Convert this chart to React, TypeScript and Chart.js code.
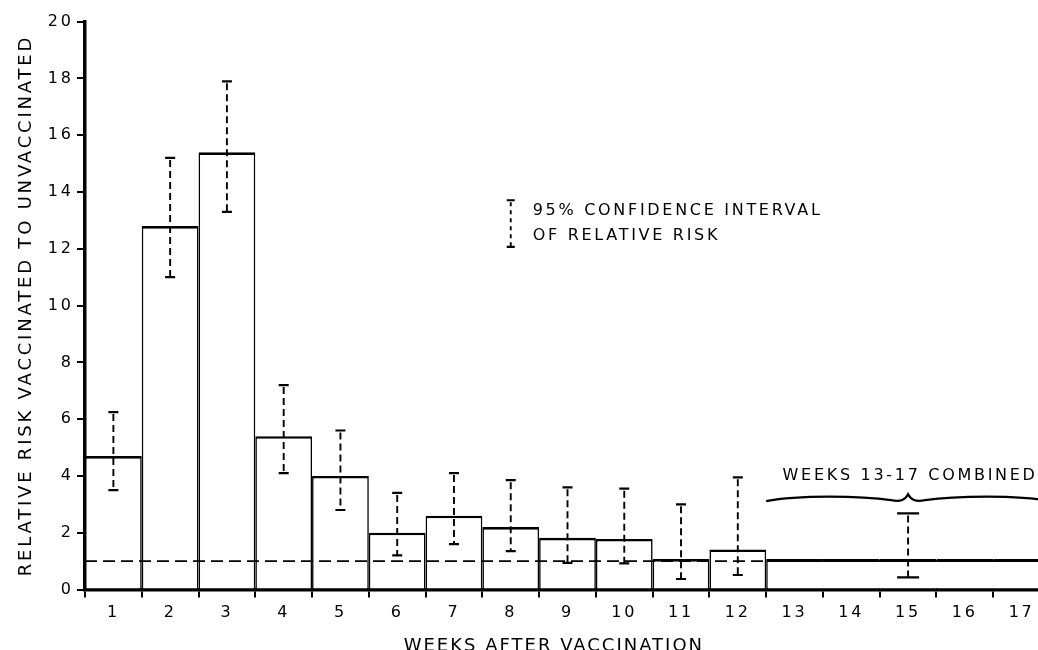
import React, { useEffect, useRef } from 'react';
import { Chart, registerables } from 'chart.js';

Chart.register(...registerables);

// ---- data ----
const weekLabels = ['1', '2', '3', '4', '5', '6', '7', '8', '9', '10', '11', '12', '13', '14', '15', '16', '17'];
const weeklyRisk = [4.7, 12.8, 15.4, 5.4, 4.0, 2.0, 2.6, 2.2, 1.82, 1.78, 1.07, 1.41];
const weeklyCiLow = [3.5, 11.0, 13.3, 4.1, 2.8, 1.2, 1.6, 1.35, 0.94, 0.92, 0.37, 0.51];
const weeklyCiHigh = [6.25, 15.2, 17.9, 7.2, 5.6, 3.4, 4.1, 3.85, 3.6, 3.55, 3.0, 3.95];
const combinedRisk = 1.07; // weeks 13-17 combined
const combinedCiLow = 0.43;
const combinedCiHigh = 2.68;
const combinedCiWeek = '15';
const yTickValues = [0, 2, 4, 6, 8, 10, 12, 14, 16, 18, 20];
const referenceRisk = 1;
const legendSampleCi = [12.07, 13.71];
const legendLines = ['95% CONFIDENCE INTERVAL', 'OF RELATIVE RISK'];
const legendLineValues = [13.33, 12.45];
const combinedNote = 'WEEKS 13-17 COMBINED';
const xTitle = 'WEEKS AFTER VACCINATION';
const yTitle = 'RELATIVE RISK VACCINATED TO UNVACCINATED';

const barValues = weekLabels.map((_, i) => (i < weeklyRisk.length ? weeklyRisk[i] : combinedRisk));

const CANVAS_W = 1060;
const CANVAS_H = 670;
const FONT = '"DejaVu Sans", sans-serif';

const overlay = {
  id: 'overlay',
  beforeDraw(chart: any) {
    chart.ctx.letterSpacing = '2.8px';
  },
  afterDatasetsDraw(chart: any) {
    const { ctx, chartArea, scales } = chart;
    const x = scales.x;
    const y = scales.y;
    ctx.save();
    ctx.strokeStyle = '#000';
    ctx.fillStyle = '#000';

    // reference line at relative risk 1
    const yr = y.getPixelForValue(referenceRisk);
    ctx.lineWidth = 1.7;
    ctx.setLineDash([12, 6]);
    ctx.beginPath();
    ctx.moveTo(chartArea.left, yr);
    ctx.lineTo(chartArea.right, yr);
    ctx.stroke();

    const drawCi = (xc: number, lo: number, hi: number, cap: number, dash: number[]) => {
      const yl = y.getPixelForValue(lo);
      const yh = y.getPixelForValue(hi);
      ctx.lineWidth = 1.9;
      ctx.setLineDash(dash);
      ctx.beginPath();
      ctx.moveTo(xc, yh + 2);
      ctx.lineTo(xc, yl);
      ctx.stroke();
      ctx.setLineDash([]);
      ctx.lineWidth = 2.2;
      ctx.beginPath();
      ctx.moveTo(xc - cap / 2, yh);
      ctx.lineTo(xc + cap / 2, yh);
      ctx.moveTo(xc - cap / 2, yl);
      ctx.lineTo(xc + cap / 2, yl);
      ctx.stroke();
    };

    weeklyCiLow.forEach((lo, i) => drawCi(x.getPixelForValue(i), lo, weeklyCiHigh[i], 10, [7, 4]));
    const ci = weekLabels.indexOf(combinedCiWeek);
    const xm = x.getPixelForValue(ci);
    drawCi(xm, combinedCiLow, combinedCiHigh, 22, [7, 4]);

    // legend sample
    const lx = x.getPixelForValue(7);
    drawCi(lx, legendSampleCi[0], legendSampleCi[1], 8, [4, 4]);
    ctx.font = `16px ${FONT}`;
    ctx.letterSpacing = '2.7px';
    ctx.textAlign = 'left';
    ctx.textBaseline = 'middle';
    legendLines.forEach((t, i) => ctx.fillText(t, lx + 22, y.getPixelForValue(legendLineValues[i])));

    // brace over weeks 13-17
    const xl = x.getPixelForValue(weeklyRisk.length - 0.5);
    const xr = x.getPixelForValue(weekLabels.length - 0.5);
    const yb = y.getPixelForValue(3.2);
    ctx.lineWidth = 2.2;
    ctx.beginPath();
    ctx.moveTo(xl, yb + 2.5);
    ctx.bezierCurveTo(xl + 32, yb - 4, xm - 47, yb - 3, xm - 17, yb + 1.5);
    ctx.bezierCurveTo(xm - 7, yb + 3.5, xm - 3, yb + 1, xm, yb - 4.5);
    ctx.bezierCurveTo(xm + 3, yb + 1, xm + 7, yb + 3.5, xm + 17, yb + 1.5);
    ctx.bezierCurveTo(xm + 47, yb - 3, xr - 32, yb - 4, xr, yb + 2.5);
    ctx.stroke();

    ctx.textAlign = 'center';
    ctx.fillText(combinedNote, xm + 2, y.getPixelForValue(4.0));

    // x axis title
    ctx.font = `18px ${FONT}`;
    ctx.letterSpacing = '2px';
    ctx.textBaseline = 'alphabetic';
    ctx.fillText(xTitle, x.getPixelForValue(7.76), chartArea.bottom + 61.5);
    ctx.restore();
  },
};

export default function App() {
  const ref = useRef<HTMLCanvasElement | null>(null);

  useEffect(() => {
    if (!ref.current) return;
    Chart.defaults.font.family = FONT;
    Chart.defaults.color = '#000';
    const chart = new Chart(ref.current, {
      type: 'bar',
      data: {
        labels: weekLabels,
        datasets: [
          {
            data: barValues,
            backgroundColor: '#fff',
            borderColor: '#000',
            borderSkipped: 'bottom',
            borderWidth: (c: any) => {
              const i = c.dataIndex;
              if (i < weeklyRisk.length) return { top: 2.6, left: 1.6, right: 1.6, bottom: 0 };
              if (i === weeklyRisk.length) return { top: 2.8, left: 1.6, right: 0, bottom: 0 };
              return { top: 2.8, left: 0, right: 0, bottom: 0 };
            },
            barPercentage: 1,
            categoryPercentage: 1,
            inflateAmount: 0,
          } as any,
        ],
      },
      options: {
        responsive: false,
        animation: false,
        devicePixelRatio: 1,
        layout: { padding: { left: 0, top: 21.7, right: 10, bottom: 0 } },
        plugins: {
          legend: { display: false },
          tooltip: { enabled: false },
          title: { display: false },
        },
        scales: {
          x: {
            type: 'category',
            z: 1,
            offset: true,
            grid: {
              offset: true,
              drawOnChartArea: false,
              drawTicks: true,
              tickLength: 8,
              color: '#000',
              lineWidth: 2,
            },
            border: { display: true, color: '#000', width: 3.5 },
            ticks: {
              color: '#000',
              font: { size: 16, family: FONT },
              padding: 6,
              maxRotation: 0,
              autoSkip: false,
            },
            afterFit: (s: any) => {
              s.height = CANVAS_H - 589.5;
            },
          },
          y: {
            min: 0,
            max: 20,
            z: 1,
            afterBuildTicks: (s: any) => {
              s.ticks = yTickValues.map((v) => ({ value: v }));
            },
            grid: {
              drawOnChartArea: false,
              drawTicks: true,
              tickLength: 8,
              color: '#000',
              lineWidth: 2,
            },
            border: { display: true, color: '#000', width: 3.5 },
            ticks: {
              color: '#000',
              font: { size: 16, family: FONT },
              padding: 3.3,
            },
            title: {
              display: true,
              text: yTitle,
              color: '#000',
              font: { size: 18, family: FONT },
              padding: { top: 15.7, bottom: 0 },
            },
            afterFit: (s: any) => {
              s.width = 85;
            },
          },
        },
      } as any,
      plugins: [overlay],
    });
    return () => chart.destroy();
  }, []);

  return (
    <div
      style={{
        position: 'fixed',
        left: 0,
        top: 0,
        width: 1038,
        height: 650,
        overflow: 'hidden',
        background: '#fff',
      }}
    >
      <canvas ref={ref} width={CANVAS_W} height={CANVAS_H} style={{ display: 'block' }} />
    </div>
  );
}
